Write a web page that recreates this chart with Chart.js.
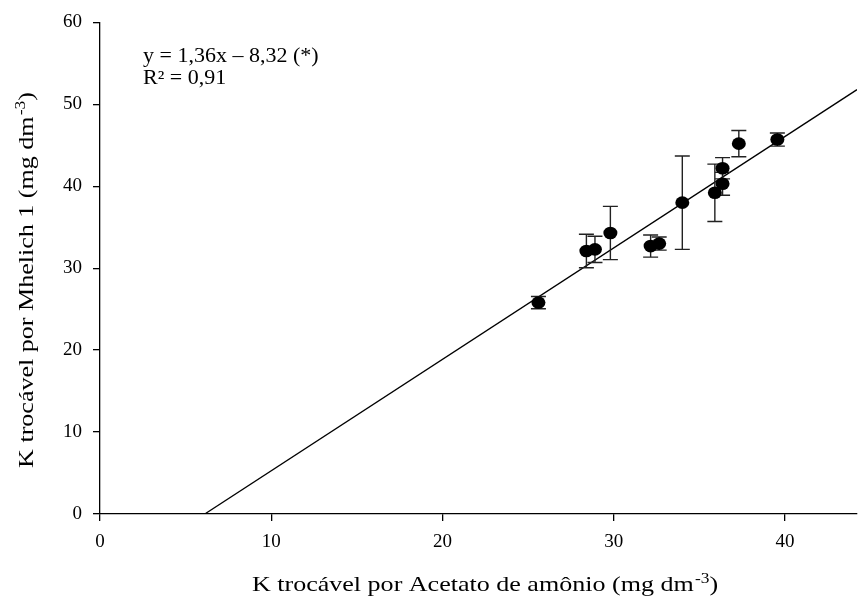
<!DOCTYPE html>
<html>
<head>
<meta charset="utf-8">
<script src="https://cdn.jsdelivr.net/npm/chart.js@4/dist/chart.umd.min.js"></script>
<style>
  html, body { margin: 0; padding: 0; background: #fff; }
  #wrap { width: 858px; height: 596px; }
</style>
</head>
<body>
<div id="wrap"><canvas id="kChart"></canvas></div>
<script>
// K trocável: Acetato de amônio (x) vs Mehlich 1 (y), mean ± error
const acetato = [25.6, 28.4, 28.9, 29.8, 32.15, 32.65, 34.0, 35.9, 36.35, 36.35, 37.3, 39.55];
const mehlich = [25.8, 32.1, 32.3, 34.3, 32.7, 33.0, 38.0, 39.2, 40.3, 42.2, 45.2, 45.7];
const erro = [0.75, 2.05, 1.6, 3.25, 1.35, 0.8, 5.7, 3.5, 1.4, 1.3, 1.6, 0.8];

// fitted line y = 1,36x - 8,32
const slope = 1.36;
const intercept = -8.32;
const xMax = 44.2;
const yMax = 60;
const equacao = ['y = 1,36x \u2013 8,32 (*)', 'R\u00b2 = 0,91'];

const serif = '"Liberation Serif", "Times New Roman", serif';

const pontos = acetato.map((x, i) => ({ x: x, y: mehlich[i], e: erro[i] }));
const reta = [
  { x: -intercept / slope, y: 0 },
  { x: xMax, y: slope * xMax + intercept }
];

// vertical error bars with caps
const errorBars = {
  id: 'errorBars',
  afterDatasetsDraw(chart) {
    const { ctx, scales: { x, y } } = chart;
    ctx.save();
    ctx.strokeStyle = '#222';
    ctx.lineWidth = 1.4;
    pontos.forEach(p => {
      const px = x.getPixelForValue(p.x);
      const top = y.getPixelForValue(p.y + p.e);
      const bot = y.getPixelForValue(p.y - p.e);
      ctx.beginPath();
      ctx.moveTo(px, top); ctx.lineTo(px, bot);
      ctx.moveTo(px - 7.5, top); ctx.lineTo(px + 7.5, top);
      ctx.moveTo(px - 7.5, bot); ctx.lineTo(px + 7.5, bot);
      ctx.stroke();
    });
    // points drawn on top of the bars
    ctx.fillStyle = '#000';
    pontos.forEach(p => {
      ctx.beginPath();
      ctx.ellipse(x.getPixelForValue(p.x), y.getPixelForValue(p.y), 7, 6.3, 0, 0, Math.PI * 2);
      ctx.fill();
    });
    ctx.restore();
  }
};

// axis titles with superscript, plus the equation (wide serif lettering)
const textos = {
  id: 'textos',
  afterDraw(chart) {
    const ctx = chart.ctx;
    ctx.save();
    ctx.fillStyle = '#000';
    ctx.textBaseline = 'alphabetic';
    ctx.textAlign = 'left';

    const drawSup = (main, sup, tail, cx, cy, stretch) => {
      ctx.font = '21px ' + serif;
      const w1 = ctx.measureText(main).width;
      const w3 = ctx.measureText(tail).width;
      ctx.font = '14px ' + serif;
      const w2 = ctx.measureText(sup).width + 1;
      ctx.save();
      ctx.translate(cx, cy);
      ctx.scale(stretch, 1);
      const sx = -(w1 + w2 + w3) / 2;
      ctx.font = '21px ' + serif;
      ctx.fillText(main, sx, 0);
      ctx.font = '14px ' + serif;
      ctx.fillText(sup, sx + w1 + 1, -8);
      ctx.font = '21px ' + serif;
      ctx.fillText(tail, sx + w1 + w2, 0);
      ctx.restore();
    };

    drawSup('K trocável por Acetato de amônio (mg dm', '-3', ')', 485, 591, 1.24);

    ctx.save();
    ctx.translate(33, 280);
    ctx.rotate(-Math.PI / 2);
    drawSup('K trocável por Mhelich 1 (mg dm', '-3', ')', 0, 0, 1.24);
    ctx.restore();

    ctx.font = '20px ' + serif;
    equacao.forEach((t, i) => {
      ctx.save();
      ctx.translate(143, 62 + i * 22);
      ctx.scale(1.1, 1);
      ctx.fillText(t, 0, 0);
      ctx.restore();
    });
    ctx.restore();
  }
};

new Chart(document.getElementById('kChart'), {
  type: 'scatter',
  data: {
    datasets: [
      {
        type: 'line',
        data: reta,
        borderColor: '#000',
        borderWidth: 1.3,
        pointRadius: 0,
        fill: false
      },
      {
        data: pontos,
        pointRadius: 0,
        backgroundColor: '#000'
      }
    ]
  },
  options: {
    responsive: true,
    maintainAspectRatio: false,
    animation: false,
    layout: { padding: { top: 22, right: 1, left: 0, bottom: 0 } },
    plugins: {
      legend: { display: false },
      tooltip: { enabled: false }
    },
    scales: {
      x: {
        type: 'linear',
        min: 0,
        max: xMax,
        border: { color: '#000', width: 1.3 },
        grid: { drawOnChartArea: false, drawTicks: true, tickLength: 7, color: '#000', lineWidth: 1.3 },
        ticks: { stepSize: 10, includeBounds: false, color: '#000', padding: 10, font: { family: serif, size: 19 } },
        afterFit(scale) { scale.height = 82; }
      },
      y: {
        type: 'linear',
        min: 0,
        max: yMax,
        border: { color: '#000', width: 1.3 },
        grid: { drawOnChartArea: false, drawTicks: true, tickLength: 7, color: '#000', lineWidth: 1.3 },
        ticks: { stepSize: 10, color: '#000', padding: 11, font: { family: serif, size: 19 } },
        afterFit(scale) { scale.width = 100; }
      }
    }
  },
  plugins: [errorBars, textos]
});
</script>
</body>
</html>
